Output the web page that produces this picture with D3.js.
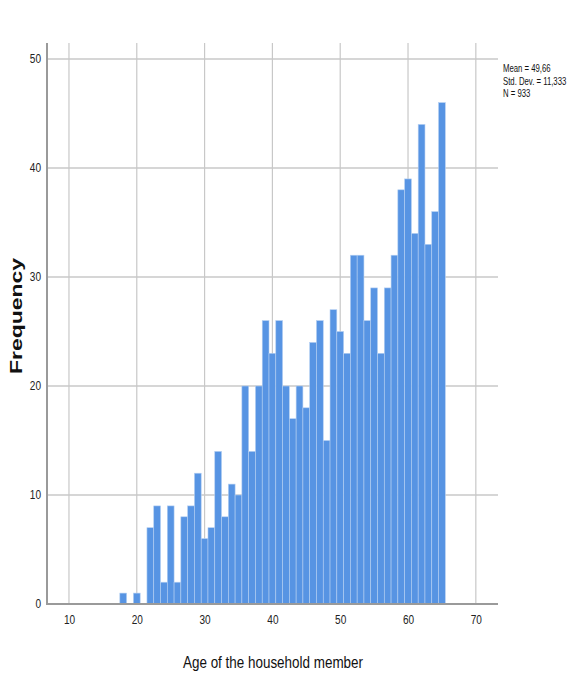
<!DOCTYPE html>
<html><head><meta charset="utf-8">
<script src="https://cdn.jsdelivr.net/npm/d3@7"></script>
<style>body{margin:0;background:#fff}</style>
</head><body>
<svg id="c" width="576" height="674"></svg>
<script>
const ages = [18,19,20,21,22,23,24,25,26,27,28,29,30,31,32,33,34,35,36,37,38,39,40,41,42,43,44,45,46,47,48,49,50,51,52,53,54,55,56,57,58,59,60,61,62,63,64,65];
const freq = [1,0,1,0,7,9,2,9,2,8,9,12,6,7,14,8,11,10,20,14,20,26,23,26,20,17,20,18,24,26,15,27,25,23,32,32,26,29,23,29,32,38,39,34,44,33,36,46];
const xTicks = [10,20,30,40,50,60,70];
const yTicks = [0,10,20,30,40,50];
const stats = ["Mean = 49,66","Std. Dev. = 11,333","N = 933"];
const xTitle = "Age of the household member";
const yTitle = "Frequency";

const svg = d3.select("#c");
const L=47, R=498, T=43, B=604;
const x = d3.scaleLinear().domain([6.76,73.27]).range([L,R]);
const y = d3.scaleLinear().domain([0,51.47]).range([B,T]);
const font = "'Liberation Sans Narrow','Arial Narrow','Liberation Sans',Arial,sans-serif";

// grid
svg.append("g").selectAll("line").data(yTicks.filter(d=>d>0)).join("line")
  .attr("x1",L).attr("x2",R).attr("y1",d=>y(d)).attr("y2",d=>y(d))
  .attr("stroke","#c8c8c8").attr("stroke-width",1.5);
svg.append("g").selectAll("line").data(xTicks).join("line")
  .attr("x1",d=>x(d)).attr("x2",d=>x(d)).attr("y1",T).attr("y2",B)
  .attr("stroke","#c8c8c8").attr("stroke-width",1.2);

// bars
const data = ages.map((a,i)=>({a, f:freq[i]})).filter(d=>d.f>0);
svg.append("g").selectAll("rect").data(data).join("rect")
  .attr("x",d=>x(d.a-0.5)).attr("width",d=>x(d.a+0.5)-x(d.a-0.5))
  .attr("y",d=>y(d.f)).attr("height",d=>y(0)-y(d.f))
  .attr("fill","#5794e3").attr("stroke","#b4cff2").attr("stroke-width",0.6);

// axes
const gx = svg.append("g").attr("transform",`translate(0,${B})`)
  .call(d3.axisBottom(x).tickValues(xTicks).tickSize(0).tickPadding(11).tickFormat(d3.format("d")));
const gy = svg.append("g").attr("transform",`translate(${L},0)`)
  .call(d3.axisLeft(y).tickValues(yTicks).tickSize(0).tickPadding(6).tickFormat(d3.format("d")));
[gx,gy].forEach(g=>{
  g.select(".domain").remove();
  g.selectAll("text").attr("font-family",font).attr("font-size",12).attr("fill","#222")
    .attr("textLength",function(){return this.textContent.length*5.6;}).attr("lengthAdjust","spacingAndGlyphs");
});
svg.append("line").attr("x1",L).attr("x2",L).attr("y1",T).attr("y2",B+1)
  .attr("stroke","#9a9a9a").attr("stroke-width",2);
svg.append("line").attr("x1",L).attr("x2",R).attr("y1",B).attr("y2",B)
  .attr("stroke","#9a9a9a").attr("stroke-width",2);

// titles
svg.append("text").attr("x",273).attr("y",668).attr("text-anchor","middle")
  .attr("font-family",font).attr("font-size",17).attr("fill","#111")
  .attr("textLength",180).attr("lengthAdjust","spacingAndGlyphs").text(xTitle);
svg.append("text").attr("transform","translate(22,316) rotate(-90)").attr("text-anchor","middle")
  .attr("font-family","'Liberation Sans',Arial,sans-serif").attr("font-weight","bold")
  .attr("font-size",16).attr("fill","#111")
  .attr("textLength",116).attr("lengthAdjust","spacingAndGlyphs").text(yTitle);

// stats
svg.append("g").selectAll("text").data(stats).join("text")
  .attr("transform",(d,i)=>`translate(503,${72+i*12.5}) scale(0.74,1)`)
  .attr("font-family",font).attr("font-size",10.5).attr("fill","#111").text(d=>d);
</script>
</body></html>
